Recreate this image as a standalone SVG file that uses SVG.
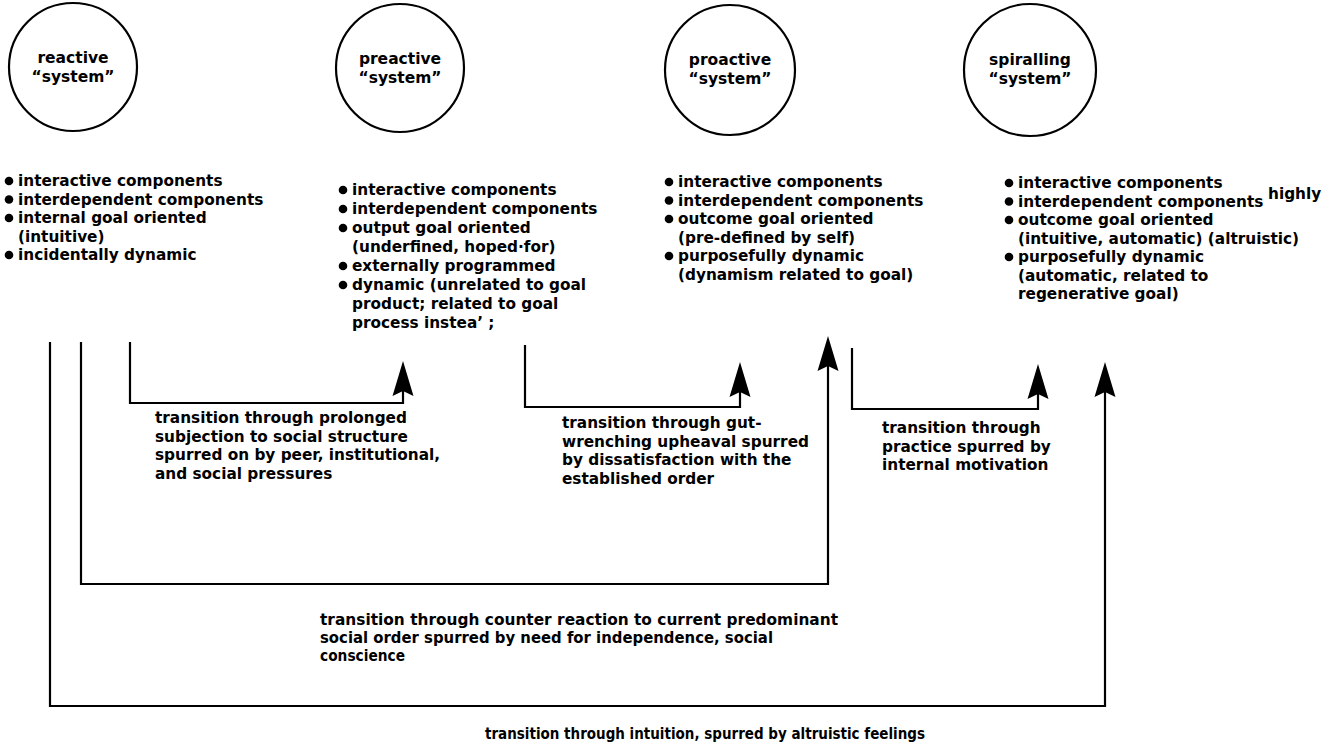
<svg xmlns="http://www.w3.org/2000/svg" width="1336" height="745" viewBox="0 0 1336 745">
<style>
text{font-family:"DejaVu Sans","Liberation Sans",sans-serif;font-weight:bold;font-size:15.3px;fill:#000}
.ct{text-anchor:middle;font-size:15.5px}
.cond{font-size:16.5px}
.node circle.ring{fill:none;stroke:#000;stroke-width:2.2}
.b{fill:#000}
.conn path{fill:none;stroke:#000;stroke-width:2.2}
</style>
<defs>
<marker id="ah" markerUnits="userSpaceOnUse" markerWidth="36" markerHeight="24" refX="24" refY="12" orient="auto" overflow="visible">
<path d="M0,1.5 L35,12 L0,22.5 L5,12 Z" fill="#000"/>
</marker>
</defs>
<rect width="1336" height="745" fill="#fff"/>

<g id="reactive" class="node">
<circle class="ring" cx="73" cy="67" r="64"/>
<text class="ct" x="73" y="63">reactive</text>
<text class="ct" x="73" y="82">“system”</text>
<circle class="b" cx="9" cy="181" r="4.3"/><text x="18" y="186">interactive components</text>
<circle class="b" cx="9" cy="199.5" r="4.3"/><text x="18" y="204.5">interdependent components</text>
<circle class="b" cx="9" cy="218" r="4.3"/><text x="18" y="223">internal goal oriented</text>
<text x="18" y="241.5">(intuitive)</text>
<circle class="b" cx="9" cy="255" r="4.3"/><text x="18" y="260">incidentally dynamic</text>
</g>

<g id="preactive" class="node">
<circle class="ring" cx="400" cy="68" r="64"/>
<text class="ct" x="400" y="64">preactive</text>
<text class="ct" x="400" y="83">“system”</text>
<circle class="b" cx="343" cy="190" r="4.3"/><text x="352" y="195">interactive components</text>
<circle class="b" cx="343" cy="209" r="4.3"/><text x="352" y="214">interdependent components</text>
<circle class="b" cx="343" cy="228" r="4.3"/><text x="352" y="233">output goal oriented</text>
<text x="352" y="252">(underfined, hoped·for)</text>
<circle class="b" cx="343" cy="266" r="4.3"/><text x="352" y="271">externally programmed</text>
<circle class="b" cx="343" cy="285" r="4.3"/><text x="352" y="290">dynamic (unrelated to goal</text>
<text x="352" y="309">product; related to goal</text>
<text x="352" y="328">process instea’ ;</text>
</g>

<g id="proactive" class="node">
<circle class="ring" cx="730" cy="70" r="65"/>
<text class="ct" x="730" y="65">proactive</text>
<text class="ct" x="730" y="84">“system”</text>
<circle class="b" cx="669" cy="182" r="4.3"/><text x="678" y="187">interactive components</text>
<circle class="b" cx="669" cy="200.5" r="4.3"/><text x="678" y="205.5">interdependent components</text>
<circle class="b" cx="669" cy="219" r="4.3"/><text x="678" y="224">outcome goal oriented</text>
<text x="678" y="242.5">(pre-defined by self)</text>
<circle class="b" cx="669" cy="256" r="4.3"/><text x="678" y="261">purposefully dynamic</text>
<text x="678" y="279.5">(dynamism related to goal)</text>
</g>

<g id="spiralling" class="node">
<circle class="ring" cx="1030" cy="70" r="66"/>
<text class="ct" x="1030" y="65">spiralling</text>
<text class="ct" x="1030" y="84">“system”</text>
<circle class="b" cx="1009" cy="183" r="4.3"/><text x="1018" y="188">interactive components</text>
<circle class="b" cx="1009" cy="201.5" r="4.3"/><text x="1018" y="206.5">interdependent components</text>
<circle class="b" cx="1009" cy="220" r="4.3"/><text x="1018" y="225">outcome goal oriented</text>
<text x="1018" y="243.5">(intuitive, automatic) (altruistic)</text>
<circle class="b" cx="1009" cy="257" r="4.3"/><text x="1018" y="262">purposefully dynamic</text>
<text x="1018" y="280.5">(automatic, related to</text>
<text x="1018" y="299">regenerative goal)</text>
<text x="1268" y="199">highly</text>
</g>

<g id="connectors" class="conn">
<path d="M130,342 V403 H403 V372" marker-end="url(#ah)"/>
<path d="M525,345 V407 H740 V373" marker-end="url(#ah)"/>
<path d="M852,348 V409 H1038 V375" marker-end="url(#ah)"/>
<path d="M81,342 V584 H828 V347" marker-end="url(#ah)"/>
<path d="M50,342 V706 H1105 V373" marker-end="url(#ah)"/>
</g>

<g id="labels">
<text x="155" y="423">transition through prolonged</text>
<text x="155" y="441.5">subjection to social structure</text>
<text x="155" y="460">spurred on by peer, institutional,</text>
<text x="155" y="478.5">and social pressures</text>

<text x="562" y="428">transition through gut-</text>
<text x="562" y="446.5">wrenching upheaval spurred</text>
<text x="562" y="465">by dissatisfaction with the</text>
<text x="562" y="483.5">established order</text>

<text x="882" y="433">transition through</text>
<text x="882" y="451.5">practice spurred by</text>
<text x="882" y="470">internal motivation</text>

<text class="cond" x="320" y="625" textLength="518" lengthAdjust="spacingAndGlyphs">transition through counter reaction to current predominant</text>
<text class="cond" x="320" y="643" textLength="453" lengthAdjust="spacingAndGlyphs">social order spurred by need for independence, social</text>
<text class="cond" x="320" y="661" textLength="85" lengthAdjust="spacingAndGlyphs">conscience</text>

<text class="cond" x="485" y="739" textLength="440" lengthAdjust="spacingAndGlyphs">transition through intuition, spurred by altruistic feelings</text>
</g>
</svg>
